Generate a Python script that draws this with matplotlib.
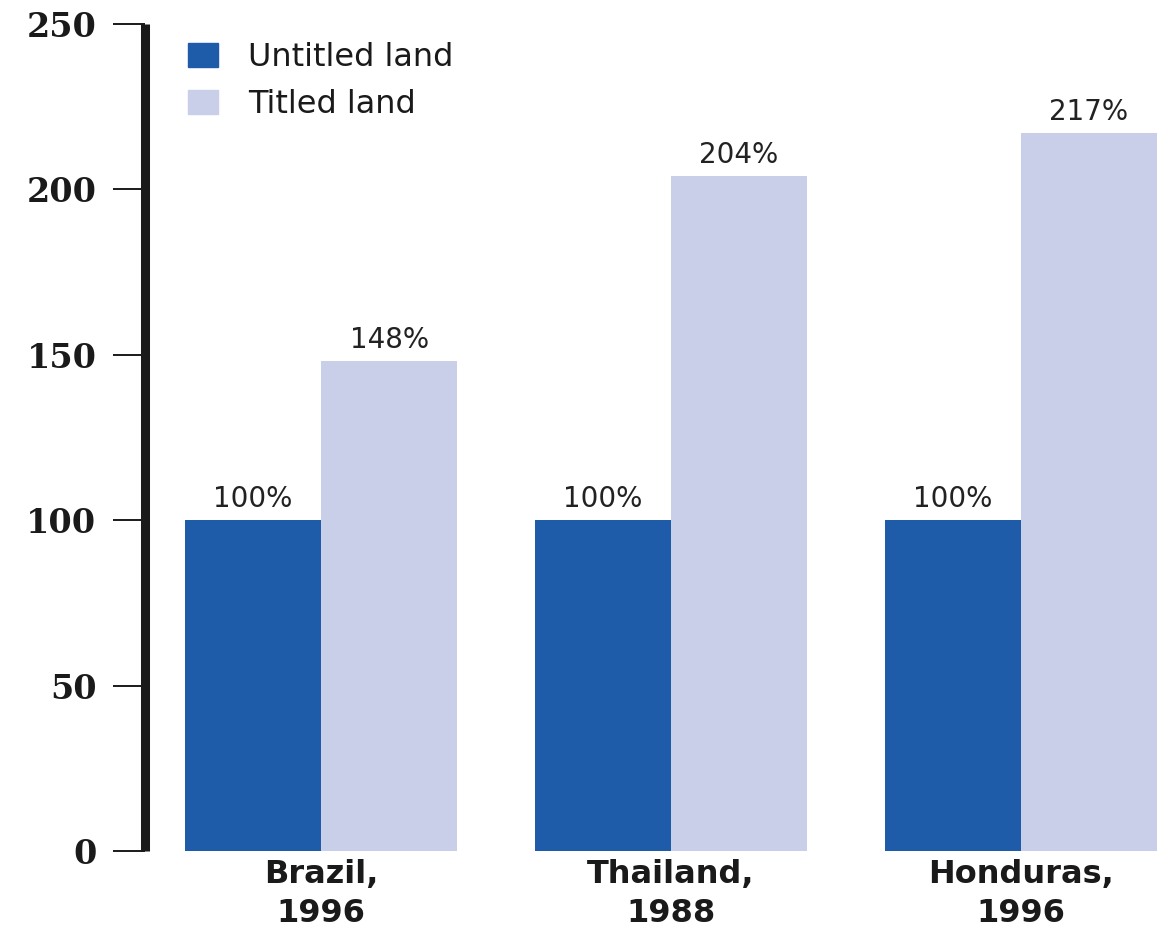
import matplotlib
matplotlib.use("Agg")
import matplotlib.pyplot as plt
import numpy as np
from matplotlib.patches import Patch

categories = ["Brazil,\n1996", "Thailand,\n1988", "Honduras,\n1996"]
untitled = [100, 100, 100]
titled = [148, 204, 217]
series_names = ["Untitled land", "Titled land"]
yticks = [0, 50, 100, 150, 200, 250]

c_un = "#1E5BA8"
c_ti = "#C9CEE9"

fig = plt.figure(figsize=(11.57, 9.32), dpi=100)
ax = fig.add_axes([145/1157, 81/932, 1 - 145/1157, (851-24)/932])

x = np.arange(len(categories))
w = 0.389
b1 = ax.bar(x - w/2, untitled, w, color=c_un, label=series_names[0])
b2 = ax.bar(x + w/2, titled, w, color=c_ti, label=series_names[1])

for bars, vals in ((b1, untitled), (b2, titled)):
    for r, v in zip(bars, vals):
        ax.annotate(f"{v}%", (r.get_x() + r.get_width()/2, v), xytext=(0, 5),
                    textcoords="offset points", ha="center", va="bottom",
                    fontsize=20, family="DejaVu Sans", color="#222222")

ax.set_xlim(-0.503, 2.389)
ax.set_ylim(0, 250)
ax.tick_params(axis="y", length=23, width=1.4, pad=12, color="#1a1a1a",
               labelsize=24)
ax.set_yticks(yticks)
ax.set_yticklabels([str(t) for t in yticks])
for lab in ax.get_yticklabels():
    lab.set_fontsize(24)
    lab.set_fontweight("bold")
    lab.set_family("DejaVu Serif")
    lab.set_color("#1a1a1a")

ax.tick_params(axis="x", length=0, pad=6, labelsize=23)
ax.set_xticks(x)
ax.set_xticklabels(categories)
for lab in ax.get_xticklabels():
    lab.set_fontsize(23)
    lab.set_fontweight("bold")
    lab.set_family("DejaVu Sans")
    lab.set_color("#1a1a1a")
    lab.set_linespacing(1.3)

for s in ["top", "right", "bottom"]:
    ax.spines[s].set_visible(False)
ax.spines["left"].set_linewidth(6.5)
ax.spines["left"].set_color("#1a1a1a")
ax.spines["left"].set_capstyle("butt")

handles = [Patch(color=c_un), Patch(color=c_ti)]
leg = ax.legend(handles, series_names, loc="upper left",
                bbox_to_anchor=(0.02, 1.005), frameon=False,
                prop={"family": "DejaVu Sans", "size": 23},
                handlelength=0.95, handleheight=0.78, handletextpad=0.95,
                labelspacing=0.5, borderaxespad=0.3)
for t in leg.get_texts():
    t.set_color("#1a1a1a")

fig.savefig("out.png", dpi=100)
